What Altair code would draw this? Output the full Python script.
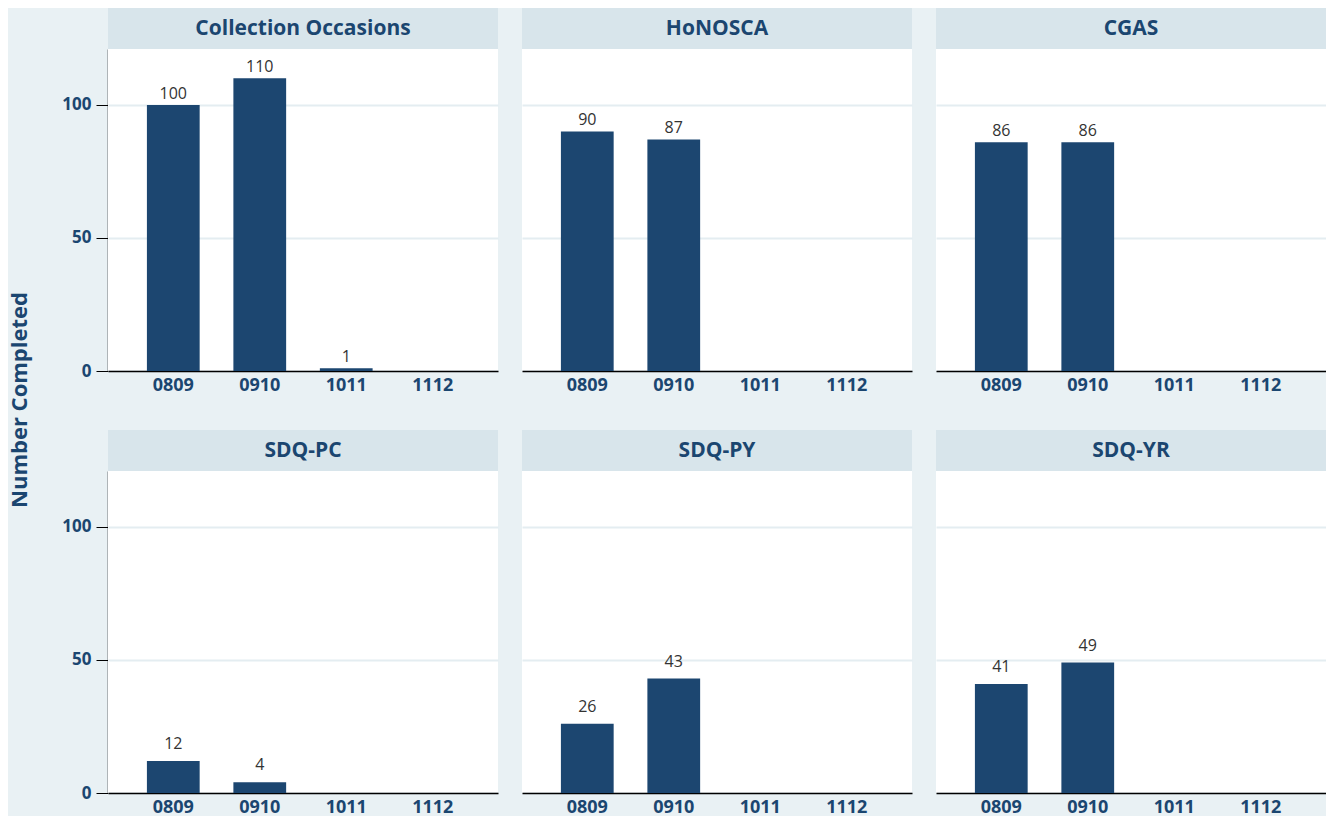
import altair as alt
import pandas as pd
import json

PANELS = ["Collection Occasions", "HoNOSCA", "CGAS", "SDQ-PC", "SDQ-PY", "SDQ-YR"]
YEARS = ["0809", "0910", "1011", "1112"]
ROW1 = ["Collection Occasions", "HoNOSCA", "CGAS"]

collection = [100, 110, 1, 0]
honosca = [90, 87, 0, 0]
cgas = [86, 86, 0, 0]
sdq_pc = [12, 4, 0, 0]
sdq_py = [26, 43, 0, 0]
sdq_yr = [41, 49, 0, 0]

Y_TICKS = [0, 50, 100]
Y_MAX = 121

series = [collection, honosca, cgas, sdq_pc, sdq_py, sdq_yr]
rows = []
for p, vals in zip(PANELS, series):
    for y, v in zip(YEARS, vals):
        rows.append({"panel": p, "year": y, "value": v})
df = pd.DataFrame(rows)

BG = "#e9f1f4"
HEADER = "#d8e5eb"
DARK = "#1b4670"
BAR = "#1c4670"
LABEL = "#333333"
GRID = "#e4edf1"
FONT = "Open Sans"

W = 390
H = 322
HH = 41

x_enc = alt.X(
    "year:N",
    sort=YEARS,
    scale=alt.Scale(domain=YEARS, paddingInner=0.39, paddingOuter=0.45),
    axis=alt.Axis(
        title=None, labelAngle=0, ticks=False, tickSize=0, labelPadding=5,
        labelFontSize=18, labelFontWeight="bold", labelColor=DARK, labelFont=FONT,
        domainColor="black", domainWidth=1.5, grid=False,
    ),
)
y_enc = alt.Y(
    "value:Q",
    scale=alt.Scale(domain=[0, Y_MAX], nice=False),
    axis=alt.Axis(
        title=None, values=Y_TICKS, tickSize=12, tickColor="black", tickWidth=1,
        labelPadding=5, labelFontSize=17, labelFontWeight="bold", labelColor=DARK,
        labelFont=FONT, domainColor="black", domainWidth=1.5,
        grid=True, gridColor=GRID, gridWidth=2,
    ),
)
x_plain = alt.X("year:N", sort=YEARS)
y_plain = alt.Y("value:Q")

first = "datum.year == '%s'" % YEARS[0]
in_row1 = "indexof(%s, datum.panel) >= 0" % json.dumps(ROW1)

header_rect = alt.Chart().mark_rect(color=HEADER).encode(
    x=alt.value(0), x2=alt.value(W), y=alt.value(-HH), y2=alt.value(0)
).transform_filter(first)

header_text = alt.Chart().mark_text(
    font=FONT, fontSize=21, fontWeight="bold", color=DARK, align="center", baseline="middle"
).encode(
    x=alt.value(W / 2), y=alt.value(-HH / 2), text="panel:N"
).transform_filter(first)

bars = alt.Chart().mark_bar(color=BAR).encode(x=x_enc, y=y_enc)

labels_top = alt.Chart().mark_text(
    font=FONT, fontSize=16, color=LABEL, baseline="alphabetic", dy=-6
).encode(x=x_plain, y=y_plain, text="value:Q").transform_filter(
    "datum.value > 0 && " + in_row1
)

labels_bottom = alt.Chart().mark_text(
    font=FONT, fontSize=16, color=LABEL, baseline="alphabetic", dy=-12
).encode(x=x_plain, y=y_plain, text="value:Q").transform_filter(
    "datum.value > 0 && !(" + in_row1 + ")"
)

panel = alt.layer(header_rect, header_text, bars, labels_top, labels_bottom, data=df).properties(
    width=W, height=H
)

chart = panel.facet(
    facet=alt.Facet(
        "panel:N", sort=PANELS, title=None,
        header=alt.Header(labels=False, labelExpr="''", labelFontSize=0, labelPadding=0),
    ),
    columns=3,
    spacing={"row": 36, "column": 24},
).resolve_axis(x="independent").properties(
    padding=0,
    title=alt.TitleParams(
        text="Number Completed", orient="left", anchor="middle",
        fontSize=22, fontWeight="bold", color=DARK, font=FONT, offset=30, dx=12,
    ),
).configure(background=BG).configure_view(fill="white", strokeWidth=0)

chart.save("out.html", embed_options={"renderer": "svg", "actions": False})
